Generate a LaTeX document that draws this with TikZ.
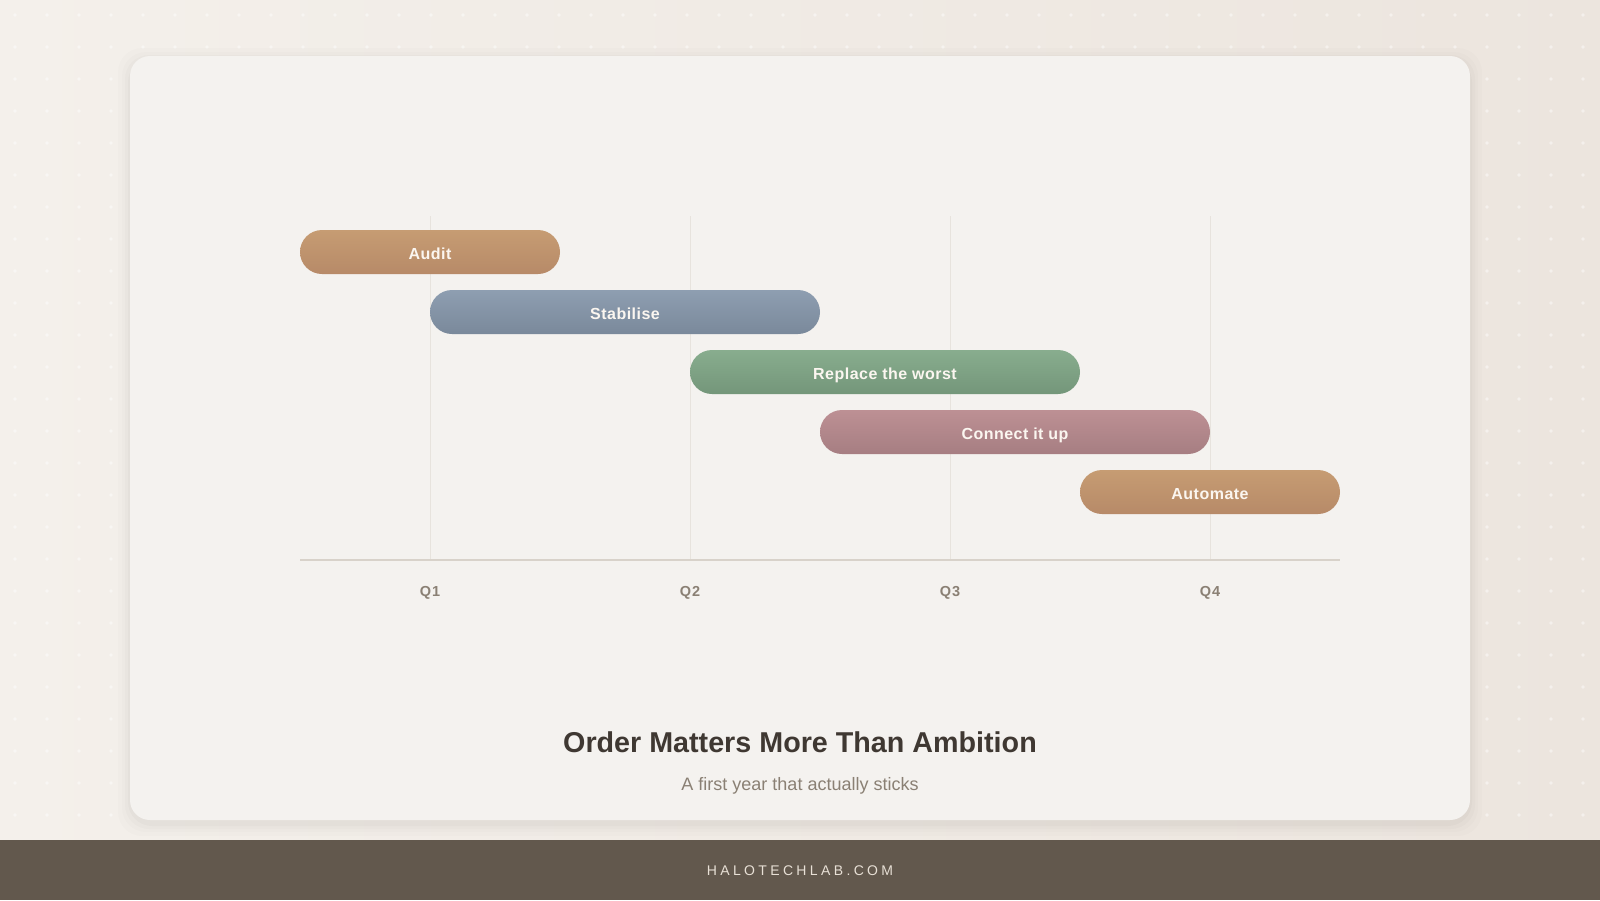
\documentclass[tikz,border=0pt]{standalone}
\usepackage{fontspec}
\setmainfont{Liberation Sans}

\definecolor{pageL}{HTML}{F4F0EB}
\definecolor{pageR}{HTML}{ECE5DE}
\definecolor{cardFill}{HTML}{F4F2EF}
\definecolor{footFill}{HTML}{62584D}
\definecolor{footText}{HTML}{E8E0D6}
\definecolor{inkDark}{HTML}{3F3832}
\definecolor{inkSoft}{HTML}{8A8074}
\definecolor{gridLine}{HTML}{E7E3DD}
\definecolor{axisLine}{HTML}{D8D2CA}
\definecolor{barText}{HTML}{FBF6F0}
\definecolor{auditTop}{HTML}{C69C73}
\definecolor{auditBot}{HTML}{B78A68}
\definecolor{stabTop}{HTML}{8E9EB1}
\definecolor{stabBot}{HTML}{7A899B}
\definecolor{replTop}{HTML}{88AD8E}
\definecolor{replBot}{HTML}{74967A}
\definecolor{connTop}{HTML}{BD9094}
\definecolor{connBot}{HTML}{A67E82}

\begin{document}
\begin{tikzpicture}[x=1pt,y=-1pt,
    bar/.style={rounded corners=22pt,minimum height=44pt,inner sep=0pt,text=barText,
        text height=15pt,text depth=0pt,
        font=\bfseries\fontsize{16}{19}\selectfont\addfontfeature{LetterSpace=3}},
    qlabel/.style={text=inkSoft,font=\bfseries\fontsize{14.5}{17}\selectfont\addfontfeature{LetterSpace=8}},
    title/.style={text=inkDark,font=\bfseries\fontsize{28.7}{34}\selectfont},
    subtitle/.style={text=inkSoft,font=\fontsize{18}{22}\selectfont},
    footer/.style={text=footText,font=\fontsize{14}{17}\selectfont\addfontfeature{LetterSpace=24}}]
    \useasboundingbox (0,0) rectangle (1600,900);
    % page and dots
    \shade[left color=pageL,right color=pageR] (0,0) rectangle (1600,840);
    \foreach \x in {0,...,49}{
        \foreach \y in {0,...,25}{
            \fill[white,opacity=0.45] ({15+32*\x},{15+32*\y}) circle (1.8pt);
        }
    }
    % card
    \foreach \s/\o in {12/0.01,8/0.012,5/0.015,2/0.02}{
        \fill[black,opacity=\o,rounded corners=24pt] (130-\s,56-\s+4) rectangle (1470+\s,820+\s+4);
    }
    \fill[cardFill,rounded corners=20pt] (130,56) rectangle (1470,820);
    % grid and axis
    \foreach \i in {1,2,3,4}{
        \draw[gridLine,line width=1pt] ({170+260*\i},216) -- ({170+260*\i},560);
        \node[qlabel] (q\i) at ({170+260*\i},593) {Q\i};
    }
    \draw[axisLine,line width=2pt] (300,560) -- (1340,560);
    % bars
    \foreach \n/\lbl/\xa/\xb/\r/\col in {audit/Audit/300/560/0/audit,
            stab/Stabilise/430/820/1/stab,
            repl/Replace the worst/690/1080/2/repl,
            conn/Connect it up/820/1210/3/conn,
            auto/Automate/1080/1340/4/audit}{
        \pgfmathsetmacro\w{\xb-\xa}
        \pgfmathsetmacro\cx{(\xa+\xb)/2}
        \pgfmathsetmacro\cy{252+60*\r}
        \node[bar,top color=\col Top,bottom color=\col Bot,minimum width=\w pt] (\n) at (\cx,\cy) {\lbl};
    }
    % captions
    \node[title] (title) at (800,742) {Order Matters More Than Ambition};
    \node[subtitle] (sub) at (800,786) {A first year that actually sticks};
    % footer
    \fill[footFill] (0,840) rectangle (1600,900);
    \node[footer] (site) at (800,871) {HALOTECHLAB.COM};
\end{tikzpicture}
\end{document}
